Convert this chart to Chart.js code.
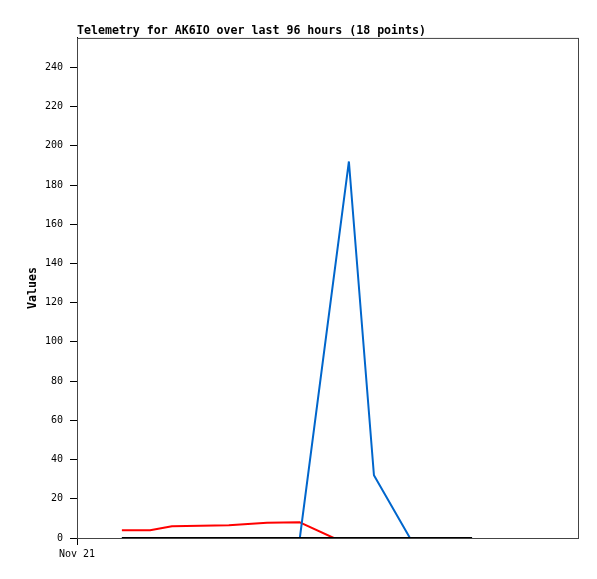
<!DOCTYPE html>
<html>
<head>
<meta charset="utf-8">
<script src="https://cdn.jsdelivr.net/npm/chart.js@4"></script>
<style>
  html, body { margin: 0; padding: 0; background: #fff; }
  #wrap { width: 597px; height: 579px; }
</style>
</head>
<body>
<div id="wrap"><canvas id="telemetry-chart" width="597" height="579"></canvas></div>
<script>
// Data (x = hours after Nov 21 00:00)
const titleText = 'Telemetry for AK6IO over last 96 hours (18 points)';
const hours = [8.6, 14.0, 18.2, 29.1, 36.4, 42.7, 49.2, 52.1, 56.9, 63.8, 75.7];
const redValues = [4, 4, 6, 6.5, 7.8, 8, 0, null, null, null, null];
const blueValues = [0, 0, 0, 0, 0, 0, null, 192, 32, 0, 0];
const blackValues = [0, 0, 0, 0, 0, 0, 0, 0, 0, 0, 0];
const xTickLabels = { 0: 'Nov 21' };

const mono = "'DejaVu Sans Mono', 'Liberation Mono', monospace";

// pair hours with values, skipping missing ones
function toPoints(values) {
    return hours.map((h, i) => ({ x: h, y: values[i] })).filter(p => p.y !== null);
}

// draws the grey frame round the plot area
const framePlugin = {
    id: 'frame',
    beforeDatasetsDraw(chart) {
        const { ctx, chartArea } = chart;
        ctx.save();
        ctx.strokeStyle = '#444';
        ctx.lineWidth = 1;
        ctx.strokeRect(chartArea.left + 0.5, chartArea.top + 0.5,
            chartArea.right - chartArea.left, chartArea.bottom - chartArea.top);
        ctx.restore();
    }
};

const ctx = document.getElementById('telemetry-chart').getContext('2d');
new Chart(ctx, {
    type: 'line',
    data: {
        datasets: [{
            data: toPoints(blackValues),
            borderColor: '#000000',
            borderWidth: 2
        }, {
            data: toPoints(blueValues),
            borderColor: '#0066cc',
            borderWidth: 2
        }, {
            data: toPoints(redValues),
            borderColor: '#ff0000',
            borderWidth: 2
        }]
    },
    options: {
        responsive: false,
        animation: false,
        events: [],
        elements: {
            point: { radius: 0 },
            line: { tension: 0, borderCapStyle: 'butt', borderJoinStyle: 'bevel' }
        },
        layout: {
            padding: { top: 24, right: 19, bottom: 0, left: 0 }
        },
        plugins: {
            legend: { display: false },
            tooltip: { enabled: false },
            title: {
                display: true,
                text: titleText,
                align: 'start',
                fullSize: false,
                color: '#000',
                font: { family: mono, size: 11.6, weight: 'bold' },
                padding: { top: 0, bottom: 0 }
            }
        },
        scales: {
            x: {
                type: 'linear',
                min: 0,
                max: 96,
                afterBuildTicks: scale => {
                    scale.ticks = Object.keys(xTickLabels).map(v => ({ value: Number(v) }));
                },
                afterFit: scale => { scale.height = 41; },
                ticks: {
                    color: '#000',
                    font: { family: mono, size: 10 },
                    padding: 3,
                    maxRotation: 0,
                    callback: v => xTickLabels[v] || ''
                },
                grid: {
                    drawOnChartArea: false,
                    drawTicks: true,
                    tickLength: 7,
                    tickColor: '#000'
                },
                border: { color: '#000', width: 1 }
            },
            y: {
                min: 0,
                max: 255,
                afterBuildTicks: scale => {
                    scale.ticks = scale.ticks.filter(t => t.value <= 240);
                },
                afterFit: scale => { scale.width = 77; },
                ticks: {
                    stepSize: 20,
                    color: '#000',
                    font: { family: mono, size: 10 },
                    padding: 7
                },
                grid: {
                    drawOnChartArea: false,
                    drawTicks: true,
                    tickLength: 7,
                    tickColor: '#000'
                },
                border: { color: '#000', width: 1 },
                title: {
                    display: true,
                    text: 'Values',
                    color: '#000',
                    font: { family: mono, size: 11.6, weight: 'bold' },
                    padding: { top: 26, bottom: 0 }
                }
            }
        }
    },
    plugins: [framePlugin]
});
</script>
</body>
</html>
